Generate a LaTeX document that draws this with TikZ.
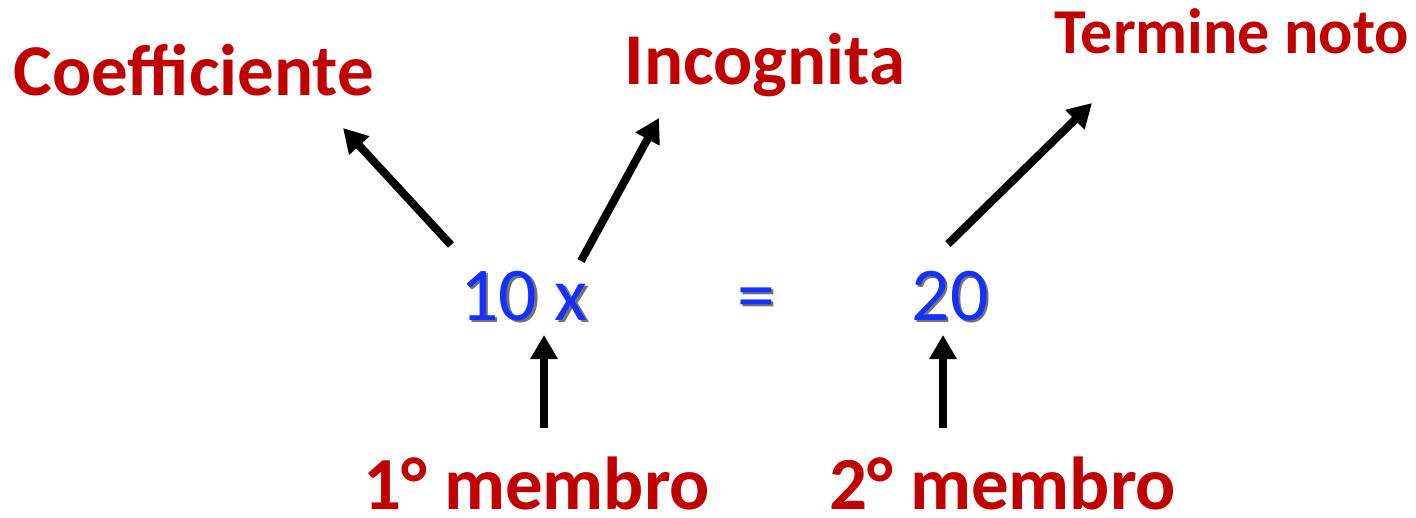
\documentclass[tikz,border=0pt]{standalone}
\usepackage{fontspec}
\setmainfont{Carlito}
\usetikzlibrary{arrows.meta,positioning,calc}
\definecolor{darkred}{RGB}{192,0,0}
\definecolor{eqblue}{RGB}{20,50,255}
\newcommand{\shadowed}[1]{\makebox[0pt][l]{\kern2.5pt\raisebox{-2.5pt}{\color{black!55}#1}}#1}

\begin{document}
\begin{tikzpicture}[x=1pt, y=-1pt,
    lbl/.style={darkred, font=\bfseries\fontsize{73}{73}\selectfont, inner sep=0pt, anchor=base},
    eqn/.style={eqblue, font=\fontsize{76}{76}\selectfont, inner sep=0pt, anchor=base},
    pointer/.style={line width=8pt, -{Triangle[length=24pt,width=26pt]}}]
    \useasboundingbox (0,0) rectangle (1416,517);

    % labels above
    \node[lbl] (coef) at (194,95) {Coefficiente};
    \node[lbl] (incog) at (765,84) {Incognita};
    \node[lbl, font=\bfseries\fontsize{64}{64}\selectfont] (noto) at (1232,53) {Termine noto};

    % equation
    \node[eqn] (lhs) at (524,320) {\shadowed{10 x}};
    \node[eqn] (eq) at (756,320) {\shadowed{=}};
    \node[eqn] (rhs) at (950,320) {\shadowed{20}};

    % labels below
    \node[lbl, font=\bfseries\fontsize{75}{75}\selectfont] (mem1) at (537,509) {1° membro};
    \node[lbl, font=\bfseries\fontsize{75}{75}\selectfont] (mem2) at (1003,509) {2° membro};

    % arrows
    \coordinate (c1) at (451,245);
    \coordinate (c2) at (581,261);
    \coordinate (c3) at (948,244);
    \draw[pointer] (c1) -- (343,128);
    \draw[pointer] (c2) -- (659,118);
    \draw[pointer] (c3) -- (1092,103);
    \draw[pointer] (mem1.north -| 544,0) ++(0,-28) -- (544,335);
    \draw[pointer] (mem2.north -| 943,0) ++(0,-28) -- (943,335);
\end{tikzpicture}
\end{document}
